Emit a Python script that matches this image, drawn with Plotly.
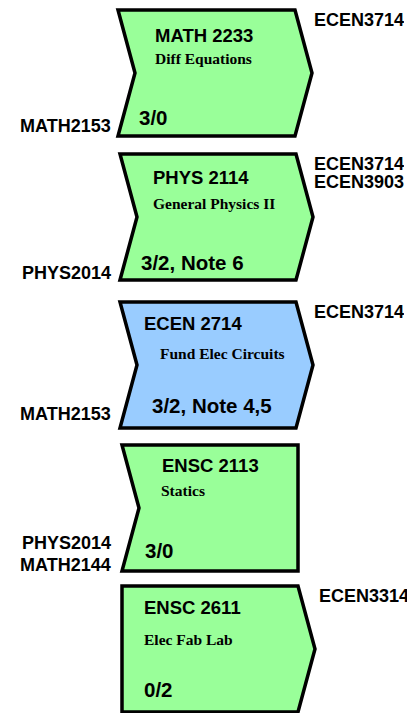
import plotly.graph_objects as go

# ---- data ----
course_codes = ["MATH 2233", "PHYS 2114", "ECEN 2714", "ENSC 2113", "ENSC 2611"]
course_titles = ["Diff Equations", "General Physics II", "Fund Elec Circuits", "Statics", "Elec Fab Lab"]
credit_notes = ["3/0", "3/2, Note 6", "3/2, Note 4,5", "3/0", "0/2"]
prerequisites = [["MATH2153"], ["PHYS2014"], ["MATH2153"], ["PHYS2014", "MATH2144"], []]
leads_to = [["ECEN3714"], ["ECEN3714", "ECEN3903"], ["ECEN3714"], [], ["ECEN3314"]]
has_left_notch = [True, True, True, True, False]
has_right_point = [True, True, True, False, True]
is_major_course = [False, False, True, False, False]

# ---- layout constants ----
W, H = 407, 713
BOX_TOP = [10, 154, 302, 445, 586]
BOX_H = 126
BOX_LEFT = [118, 120, 120, 122, 122]
BOX_RIGHT = [295, 296, 296, 298, 298]
NOTCH = 17
CODE_X = [153, 151, 142, 160, 142]
CODE_DY = [25, 23, 21, 20, 21]
TITLE_X = [153, 151, 158, 159, 142]
TITLE_DY = [48, 49, 51, 45, 53]
CREDIT_X = [137, 139, 150, 143, 142]
CREDIT_DY = [107, 108, 103, 105, 103]
PRE_RIGHT = 113
PRE_DY = [-10, -7, -14, -6, -10]
PRE_LINE = 22
POST_X = [313, 313, 313, 313, 318]
POST_DY = 10
POST_LINE = 18

GREEN = "#99FF99"
BLUE = "#99CCFF"
SANS = "Liberation Sans, Arial, sans-serif"
SERIF = "Liberation Serif, Times New Roman, serif"

fig = go.Figure()
shapes = []
annotations = []

for i in range(len(course_codes)):
    top = BOX_TOP[i]
    bot = top + BOX_H
    mid = (top + bot) / 2
    L, R = BOX_LEFT[i], BOX_RIGHT[i]
    pts = [(L, top), (R, top)]
    if has_right_point[i]:
        pts.append((R + NOTCH, mid))
    pts.append((R, bot))
    pts.append((L, bot))
    if has_left_notch[i]:
        pts.append((L + NOTCH, mid))
    path = "M " + " L ".join(f"{x},{y}" for x, y in pts) + " Z"
    shapes.append(dict(type="path", path=path, xref="x", yref="y",
                       fillcolor=BLUE if is_major_course[i] else GREEN,
                       line=dict(color="black", width=3.5), layer="below"))

    annotations.append(dict(x=CODE_X[i], y=top + CODE_DY[i], text=f"<b>{course_codes[i]}</b>",
                            xanchor="left", yanchor="middle", showarrow=False,
                            font=dict(family=SANS, size=18.5, color="black")))
    annotations.append(dict(x=TITLE_X[i], y=top + TITLE_DY[i], text=f"<b>{course_titles[i]}</b>",
                            xanchor="left", yanchor="middle", showarrow=False,
                            font=dict(family=SERIF, size=15.5, color="black")))
    annotations.append(dict(x=CREDIT_X[i], y=top + CREDIT_DY[i], text=f"<b>{credit_notes[i]}</b>",
                            xanchor="left", yanchor="middle", showarrow=False,
                            font=dict(family=SANS, size=20.5, color="black")))

    pres = prerequisites[i]
    n = len(pres)
    for k, p in enumerate(pres):
        y = bot + PRE_DY[i] - (n - 1 - k) * PRE_LINE
        annotations.append(dict(x=PRE_RIGHT, y=y, text=f"<b>{p}</b>",
                                xanchor="right", yanchor="middle", showarrow=False,
                                font=dict(family=SANS, size=18, color="black")))
    for k, p in enumerate(leads_to[i]):
        y = top + POST_DY + k * POST_LINE
        annotations.append(dict(x=POST_X[i], y=y, text=f"<b>{p}</b>",
                                xanchor="left", yanchor="middle", showarrow=False,
                                height=16, valign="middle", borderpad=0,
                                font=dict(family=SANS, size=18, color="black")))

fig.update_layout(
    width=W, height=H,
    margin=dict(l=0, r=0, t=0, b=0),
    paper_bgcolor="white", plot_bgcolor="white",
    shapes=shapes, annotations=annotations,
    showlegend=False,
    xaxis=dict(range=[0, W], visible=False, fixedrange=True),
    yaxis=dict(range=[H, 0], visible=False, fixedrange=True),
)

fig.write_html("out.html", config={"displayModeBar": False},
               post_script="document.body.style.margin='0';document.body.style.overflow='hidden';")
